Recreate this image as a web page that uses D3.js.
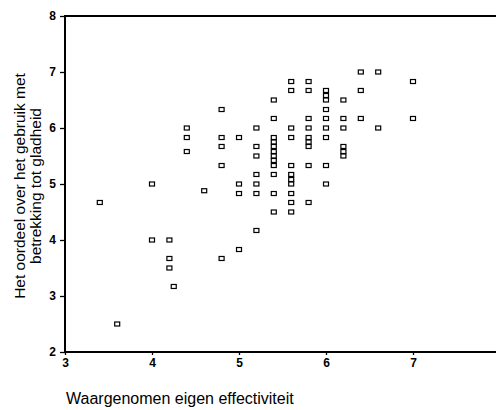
<!DOCTYPE html>
<html>
<head>
<meta charset="utf-8">
<script src="https://cdn.jsdelivr.net/npm/d3@7"></script>
<style>
    body { margin: 0; background: #fff; }
    svg { display: block; font-family: Arial, "Liberation Sans", sans-serif; }
</style>
</head>
<body>
<div id="graph"></div>
<script>
// x values (waargenomen eigen effectiviteit), one column at a time
const xValues = [3.4, 3.6, 4.0, 4.2, 4.25, 4.4, 4.6, 4.8, 5.0, 5.2, 5.4, 5.6, 5.8, 6.0, 6.2, 6.4, 6.6, 7.0];

// y values (oordeel gladheid) per x column
const yValues = [
    [4.67],
    [2.5],
    [5.0, 4.0],
    [4.0, 3.67, 3.5],
    [3.17],
    [6.0, 5.83, 5.58],
    [4.88],
    [6.33, 5.83, 5.67, 5.33, 3.67],
    [5.83, 5.0, 4.83, 3.83],
    [6.0, 5.67, 5.5, 5.17, 5.0, 4.83, 4.17],
    [6.5, 6.17, 5.83, 5.75, 5.67, 5.58, 5.5, 5.42, 5.33, 5.17, 4.83, 4.5],
    [6.83, 6.67, 6.0, 5.83, 5.33, 5.17, 5.08, 5.0, 4.83, 4.67, 4.5],
    [6.83, 6.67, 6.17, 6.0, 5.83, 5.75, 5.67, 5.33, 4.67],
    [6.67, 6.58, 6.5, 6.33, 6.17, 6.0, 5.83, 5.33, 5.0],
    [6.5, 6.17, 6.0, 5.67, 5.58, 5.5],
    [7.0, 6.67, 6.17],
    [7.0, 6.0],
    [6.83, 6.17]
];

const xTicks = [3, 4, 5, 6, 7];
const yTicks = [2, 3, 4, 5, 6, 7, 8];

const points = [];
xValues.forEach((x, i) => yValues[i].forEach(y => points.push({ x, y })));

const svgWidth = 496;
const svgHeight = 410;
const plot = { left: 65, top: 16, bottom: 352, right: 500 };

let svg = d3.select('#graph')
    .append('svg')
    .attr('width', svgWidth)
    .attr('height', svgHeight);

// Scales
let xScale = d3.scaleLinear()
    .domain([3, 8])
    .range([plot.left, plot.right]);

let yScale = d3.scaleLinear()
    .domain([2, 8])
    .range([plot.bottom, plot.top]);

// Axes
let yAxis = svg.append('g')
    .attr('transform', `translate(${plot.left}, 0)`)
    .call(d3.axisLeft(yScale).tickValues(yTicks).tickSize(5).tickPadding(4).tickFormat(d3.format('d')));

let xAxis = svg.append('g')
    .attr('transform', `translate(0, ${plot.bottom})`)
    .call(d3.axisBottom(xScale).tickValues(xTicks).tickSize(3).tickPadding(3).tickFormat(d3.format('d')));

[xAxis, yAxis].forEach(g => {
    g.select('.domain').remove();
    g.selectAll('line').attr('stroke', '#000').attr('stroke-width', 1.3);
    g.selectAll('text')
        .attr('fill', '#000')
        .style('font-size', '12px')
        .style('font-weight', 'bold');
});

// Frame: left, bottom and top lines
svg.append('path')
    .attr('d', `M${svgWidth},${plot.top}H${plot.left}V${plot.bottom}H${svgWidth}`)
    .attr('fill', 'none')
    .attr('stroke', '#000')
    .attr('stroke-width', 2);

// Points as small open squares
svg.selectAll('.pt')
    .data(points)
    .enter()
    .append('rect')
    .attr('class', 'pt')
    .attr('x', d => xScale(d.x) - 2.5)
    .attr('y', d => yScale(d.y) - 2)
    .attr('width', 5)
    .attr('height', 4)
    .attr('fill', '#fff')
    .attr('stroke', '#000')
    .attr('stroke-width', 1.2);

// Y axis label (two lines)
let yLabel = svg.append('text')
    .attr('transform', 'translate(0, 186) rotate(-90)')
    .attr('text-anchor', 'middle')
    .style('font-size', '15.5px')
    .attr('fill', '#000');

yLabel.append('tspan').attr('x', 0).attr('y', 24.5).text('Het oordeel over het gebruik met');
yLabel.append('tspan').attr('x', 0).attr('y', 40.5).text('betrekking tot gladheid');

// X axis label
svg.append('text')
    .attr('x', 66)
    .attr('y', 404)
    .style('font-size', '16px')
    .attr('fill', '#000')
    .text('Waargenomen eigen effectiviteit');
</script>
</body>
</html>
